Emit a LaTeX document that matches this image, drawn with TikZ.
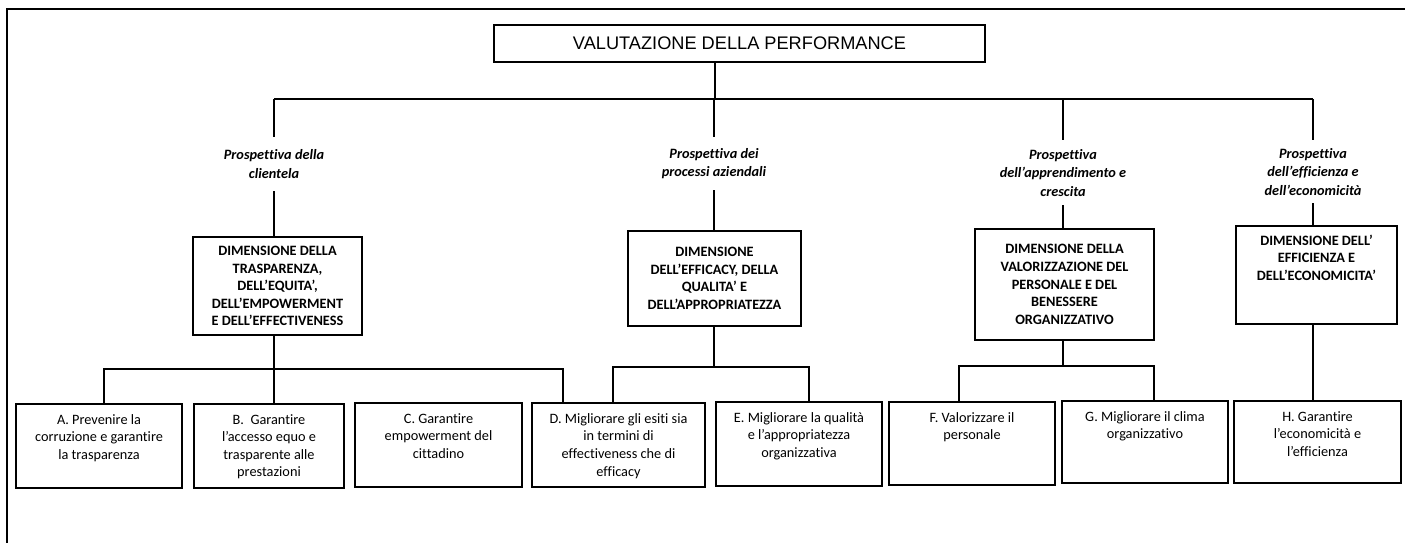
\documentclass[tikz,border=0pt]{standalone}
\usepackage{fontspec}
\setmainfont{Carlito}[Ligatures=NoCommon]
\newfontfamily\titlefont{Liberation Sans}
\begin{document}
\begin{tikzpicture}[x=1pt,y=-1pt,
  conn/.style={line width=1.8pt},
  box/.style={draw, line width=1.8pt, inner sep=0pt},
  titlebox/.style={box, font=\titlefont\fontsize{18.2}{22}\selectfont},
  dimtext/.style={align=center, font=\bfseries\fontsize{14.3}{17.6}\selectfont},
  goaltext/.style={align=center, inner sep=0pt, font=\fontsize{14.3}{17.6}\selectfont},
  persp/.style={align=center, inner sep=0pt, font=\bfseries\itshape\fontsize{14.3}{18.6}\selectfont},
]
\useasboundingbox (0,0) rectangle (1405,542);

% page frame
\draw[conn] (7,545) -- (7,9) -- (1410,9);

% title
\node[titlebox, minimum width=491pt, minimum height=37pt] (T) at (739.5,43.5) {VALUTAZIONE DELLA PERFORMANCE};

% perspectives
\node[persp, anchor=north, minimum height=54pt] (p1) at (274,137) {Prospettiva della\\clientela};
\node[persp, anchor=north, minimum height=53pt] (p2) at (714,137) {Prospettiva dei\\processi aziendali};
\node[persp, anchor=north, minimum height=65pt] (p3) at (1063,140) {Prospettiva\\dell’apprendimento e\\crescita};
\node[persp, anchor=north, minimum height=63pt] (p4) at (1313,140) {Prospettiva\\dell’efficienza e\\dell’economicità};

% dimensions
\node[box, dimtext, minimum width=169pt, minimum height=98pt] (d1) at (277.5,286) {DIMENSIONE DELLA\\TRASPARENZA,\\DELL’EQUITA’,\\DELL’EMPOWERMENT\\E DELL’EFFECTIVENESS};
\node[box, dimtext, minimum width=173pt, minimum height=95pt] (d2) at (714.5,278.5) {DIMENSIONE\\DELL’EFFICACY, DELLA\\QUALITA’ E\\DELL’APPROPRIATEZZA};
\node[box, dimtext, minimum width=179pt, minimum height=111pt] (d3) at (1064.5,284.5) {DIMENSIONE DELLA\\VALORIZZAZIONE DEL\\PERSONALE E DEL\\BENESSERE\\ORGANIZZATIVO};
\node[box, minimum width=161pt, minimum height=98pt] (d4) at (1316.5,275) {};
\node[dimtext, inner sep=0pt, anchor=north] (d4t) at ([yshift=-9.5pt]d4.north) {DIMENSIONE DELL’\\EFFICIENZA E\\DELL’ECONOMICITA’};

% goals
\node[box, minimum width=166pt, minimum height=84pt] (gA) at (99,446) {};
\node[box, minimum width=150pt, minimum height=84pt] (gB) at (269,446) {};
\node[box, minimum width=167pt, minimum height=84pt] (gC) at (438.5,445) {};
\node[box, minimum width=173pt, minimum height=84pt] (gD) at (618.5,445) {};
\node[box, minimum width=166pt, minimum height=84pt] (gE) at (799,444) {};
\node[box, minimum width=166pt, minimum height=83pt] (gF) at (972,443.5) {};
\node[box, minimum width=166pt, minimum height=82pt] (gG) at (1145,442) {};
\node[box, minimum width=167pt, minimum height=82pt] (gH) at (1317.5,442) {};

\node[goaltext, anchor=north] (gAt) at ([yshift=-11pt]gA.north) {A. Prevenire la\\corruzione e garantire\\la trasparenza};
\node[goaltext, anchor=north] (gBt) at ([yshift=-11pt]gB.north) {B.\ \ Garantire\\l’accesso equo e\\trasparente alle\\prestazioni};
\node[goaltext, anchor=north] (gCt) at ([yshift=-11pt]gC.north) {C. Garantire\\empowerment del\\cittadino};
\node[goaltext, anchor=north] (gDt) at ([yshift=-11pt]gD.north) {D. Migliorare gli esiti sia\\in termini di\\effectiveness che di\\efficacy};
\node[goaltext, anchor=north] (gEt) at ([yshift=-11pt]gE.north) {E. Migliorare la qualità\\e l’appropriatezza\\organizzativa};
\node[goaltext, anchor=north] (gFt) at ([yshift=-11pt]gF.north) {F. Valorizzare il\\personale};
\node[goaltext, anchor=north] (gGt) at ([yshift=-11pt]gG.north) {G. Migliorare il clima\\organizzativo};
\node[goaltext, anchor=north] (gHt) at ([yshift=-11pt]gH.north) {H. Garantire\\l’economicità e\\l’efficienza};

% junction points
\coordinate (tj) at (715,99);
\coordinate (barL) at (274,99);
\coordinate (barR) at (1313,99);
\coordinate (j1L) at (104,369);
\coordinate (j1R) at (563,369);
\coordinate (j2L) at (613,367);
\coordinate (j2R) at (809,367);
\coordinate (j3L) at (959,366);
\coordinate (j3R) at (1154,366);

% top level
\draw[conn] (T.south -| tj) -- (tj);
\draw[conn] (barL) -- (barR);
\foreach \p in {p1,p2,p3,p4} \draw[conn] (\p.north |- barL) -- (\p.north);

% perspectives to dimensions
\draw[conn] (p1.south) -- (p1.south |- d1.north);
\draw[conn] (p2.south) -- (p2.south |- d2.north);
\draw[conn] (p3.south) -- (p3.south |- d3.north);
\draw[conn] (p4.south) -- (p4.south |- d4.north);

% dimensions to goals
\draw[conn] (p1.south |- d1.south) -- (p1.south |- gB.north);
\draw[conn] (j1L |- gA.north) -- (j1L) -- (j1R) -- (j1R |- gD.north);
\draw[conn] (p2.south |- d2.south) -- (p2.south |- j2L);
\draw[conn] (j2L |- gD.north) -- (j2L) -- (j2R) -- (j2R |- gE.north);
\draw[conn] (p3.south |- d3.south) -- (p3.south |- j3L);
\draw[conn] (j3L |- gF.north) -- (j3L) -- (j3R) -- (j3R |- gG.north);
\draw[conn] (p4.south |- d4.south) -- (p4.south |- gH.north);
\end{tikzpicture}
\end{document}
